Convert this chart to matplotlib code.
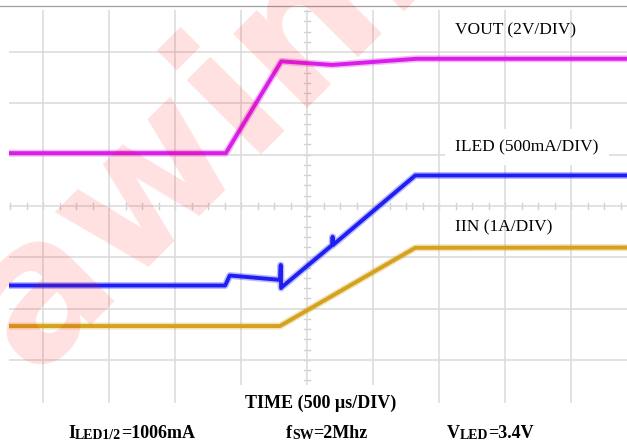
import numpy as np
import matplotlib.pyplot as plt
from matplotlib.lines import Line2D

# ---- scope settings ----------------------------------------------------------
US_PER_DIV = 500.0          # TIME (500 us/DIV)
labels = ['VOUT (2V/DIV)', 'ILED (500mA/DIV)', 'IIN (1A/DIV)']
colors = ['#d81ee8', '#1e1ef5', '#d4a21c']

# ---- traces: time in us, level in screen divisions -----------------------------
t_vout = [-2260, -615, -195, 190, 830, 2430]
vout_div = [1.03, 1.03, 2.82, 2.75, 2.87, 2.87]

t_iled = [-2260, -620, -585, -205, -199, -196, -190, 190, 194, 197, 820, 2430]
iled_div = [-1.55, -1.55, -1.355, -1.44, -1.15, -1.60, -1.58, -0.763, -0.60, -0.76, 0.595, 0.595]

t_iin = [-2260, -205, 820, 2430]
iin_div = [-2.34, -2.34, -0.815, -0.81]

# ---- figure ------------------------------------------------------------------
W, H = 627, 445
fig = plt.figure(figsize=(W/100, H/100), dpi=100)
# plot window in pixels: x 9..627, y 10..403, centre at (307, 206)
ax = fig.add_axes([9/W, 1-403/H, (627-9)/W, (403-10)/H])
ax.set_xlim((9-307)/66*US_PER_DIV, (627-307)/66*US_PER_DIV)
ax.set_ylim((206-403)/51.3, (206-10)/51.3)

ax.set_xticks(np.arange(-4, 5)*US_PER_DIV)
ax.set_yticks(np.arange(-3, 4))
ax.grid(True, color='#dadada', lw=1.1)
ax.tick_params(length=0, labelbottom=False, labelleft=False)
for s in ax.spines.values():
    s.set_visible(False)

# minor ticks on the centre cross
for xt in np.arange(-18, 20)*US_PER_DIV/4:
    ax.plot([xt, xt], [-0.06, 0.06], color='#d0d0d0', lw=1, zorder=1)
for yt in np.arange(-19, 20)*0.2:
    ax.plot([-23, 23], [yt, yt], color='#d0d0d0', lw=1, zorder=1)

# traces with a soft halo for the noise band
for (t, v), c in zip([(t_vout, vout_div), (t_iled, iled_div), (t_iin, iin_div)], colors):
    ax.plot(t, v, color=c, lw=5.0, alpha=0.3, solid_joinstyle='round', zorder=3)
    ax.plot(t, v, color=c, lw=2.8, solid_joinstyle='round', zorder=4)

# ---- labels ------------------------------------------------------------------
serif = 'Liberation Serif'
def px(x, y):
    return x/W, 1-y/H

fig.text(*px(455, 30), labels[0], family=serif, fontsize=12.5, va='center')
fig.text(*px(455, 147), labels[1], family=serif, fontsize=12.5, va='center',
         bbox=dict(boxstyle='square,pad=0.6', fc='white', ec='none'))
fig.text(*px(455, 227), labels[2], family=serif, fontsize=12.5, va='center')
fig.text(*px(321, 403), 'TIME (500 µs/DIV)', family=serif, fontsize=13, weight='bold',
         ha='center', va='center', bbox=dict(boxstyle='square,pad=0.5', fc='white', ec='none'))

# bottom line of conditions, small-caps pieces chained one after another
def chain(x, y, parts):
    prev = fig.text(*px(x, y), parts[0][0], family=serif, fontsize=parts[0][1],
                    weight='bold', va='baseline')
    for s, size in parts[1:]:
        prev = ax.annotate(s, xy=(1, 0), xycoords=prev, va='bottom', ha='left',
                           family=serif, fontsize=size, weight='bold',
                           annotation_clip=False)
    return prev

chain(68, 438, [('I', 13), ('LED1/2', 10), ('=1006mA', 13)])
chain(286, 438, [('f', 13), ('SW', 10), ('=2Mhz', 13)])
chain(447, 438, [('V', 13), ('LED', 10), ('=3.4V', 13)])

# top border of the capture
fig.add_artist(Line2D([0, 1], [1-6/H, 1-6/H], color='#a0a0a0', lw=0.9))

# watermark
fig.text(*px(32, 376), 'awinic', fontsize=138, weight='bold', color='red', alpha=0.12,
         rotation=45, rotation_mode='anchor', ha='left', va='baseline', zorder=10)

fig.savefig('out.png', dpi=100)
